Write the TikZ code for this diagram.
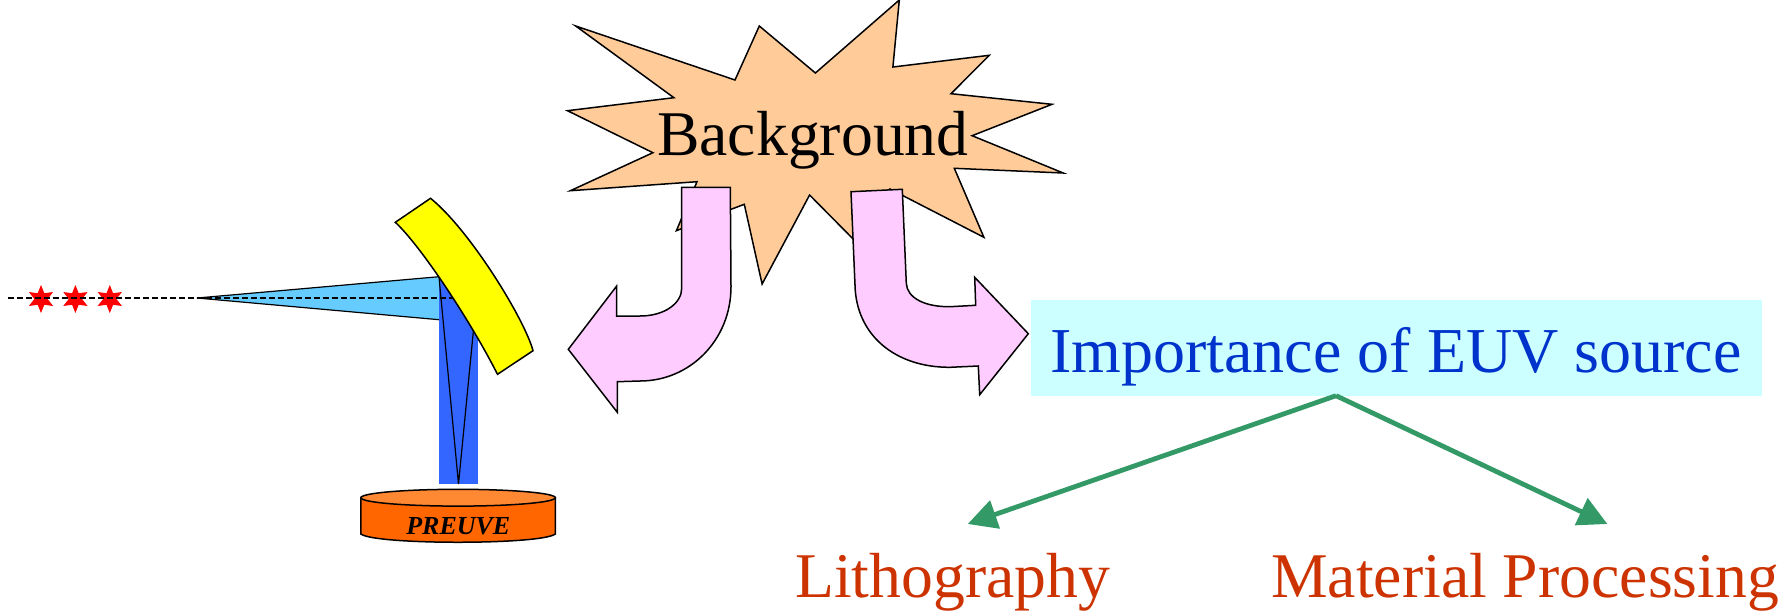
\documentclass[tikz,border=0pt]{standalone}
\usepackage{fontspec}
\setmainfont{Liberation Serif}
\usetikzlibrary{shapes.geometric,arrows.meta}
\definecolor{peach}{HTML}{FFCC99}
\definecolor{pinkfill}{HTML}{FFCCFF}
\definecolor{cyanbox}{HTML}{CCFFFF}
\definecolor{conecol}{HTML}{66CCFF}
\definecolor{beamcol}{HTML}{3366FF}
\definecolor{sidecol}{HTML}{FF6600}
\definecolor{topcol}{HTML}{FF8833}
\definecolor{greenline}{HTML}{339966}
\definecolor{redtext}{HTML}{CC3300}
\definecolor{bluetext}{HTML}{0033CC}
\definecolor{mirrorcol}{HTML}{FFFF00}
\definecolor{starcol}{HTML}{FF0000}
\tikzset{
  outline/.style={draw=black,line width=1.5pt,line join=miter},
  thinline/.style={draw=black,line width=1.2pt},
  bigtext/.style={font=\fontsize{63.7}{70}\selectfont,inner sep=0pt,anchor=base west},
  redstar/.style={star,star points=6,star point ratio=2.1,minimum size=28pt,inner sep=0pt,fill=starcol,draw=none},
  greenarrow/.style={draw=greenline,line width=4.8pt,-{Triangle[length=29pt,width=29pt,fill=greenline]}},
}
\begin{document}
\begin{tikzpicture}[x=1pt,y=-1pt]
\useasboundingbox (0,0) rectangle (1785,611);
% burst
\draw[outline,fill=peach] (575.7,26)--(735,80)--(759.3,26)--(815.4,73)--(899.3,0)--(892.9,67)--(989.3,55.3)--(951,93.7)--(1052,104.3)--(972.1,135.7)--(1063.2,173)--(954.3,168.3)--(983.9,237.3)--(890,189)--(866,252)--(809.6,195)--(762.1,284)--(744.3,204.3)--(731,209.3)--(676.4,230.7)--(697,181.7)--(570.4,190.7)--(652.9,152.7)--(567.5,110.7)--(673.9,97.7)--cycle;
\node[bigtext] (bg) at (657,155) {Background};
% block arrows
\draw[outline,fill=pinkfill] (681.7,187.3)--(730.3,187.3)--(731,286.7) .. controls (731,340) and (690,381) .. (640,381)--(617.3,381.7)--(617.3,412.3)--(568.3,349.3)--(616.7,286)--(616.7,316)--(640,316) .. controls (665,316) and (681.7,303) .. (681.7,288.3)--cycle;
\draw[outline,fill=pinkfill] (851,191.7)--(902.3,189.3)--(906.3,283.3) .. controls (907,298) and (925,307) .. (950,306.7)--(975.7,305.3)--(974.7,277.3)--(1028.3,333.7)--(979.7,394.7)--(978.3,366)--(950,367.3) .. controls (895,367.5) and (856,335) .. (855,285)--cycle;
% importance box
\node[fill=cyanbox,text=bluetext,font=\fontsize{64}{70}\selectfont,inner sep=0pt,minimum width=731pt,text height=72.5pt,text depth=24pt,anchor=base] (imp) at (1396,372) {Importance of EUV source};
\node[bigtext,text=redtext] (litho) at (795,597) {Lithography};
\node[bigtext,text=redtext] (mat) at (1271,597) {Material Processing};
\coordinate (apex) at (1336,395.7);
\coordinate (lt) at (967.7,524);
\coordinate (rt) at (1607.4,524);
\draw[greenarrow] (apex) -- (lt);
\draw[greenarrow] (apex) -- (rt);
% beams
\fill[conecol] (197,298)--(439,276.7)--(470,300)--(439,319.7)--cycle;
\fill[beamcol] (439,277) rectangle (478,484);
\draw[thinline] (439,276.7)--(197,298)--(439,319.7);
\draw[thinline] (439,277)--(458.5,484)--(473.8,326.7);
% stars and axis
\node[redstar] (s1) at (41,299) {};
\node[redstar] (s2) at (75.4,299) {};
\node[redstar] (s3) at (109.8,299) {};
\coordinate (d0) at (7.7,298);
\coordinate (d1) at (457,298);
\draw[black,line width=1.1pt,dash pattern=on 6pt off 3pt] (d0) -- (d1);
% mirror
\draw[outline,fill=mirrorcol] (430.5,198.3)--(395.3,222.3) .. controls (420,245) and (470,320) .. (497.5,374.3)--(533,350.7) .. controls (525,320) and (470,230) .. (430.5,198.3)--cycle;
% PREUVE cylinder
\draw[outline,fill=sidecol] (360.9,497.7)--(360.9,534) .. controls (375,545) and (541,545) .. (555.3,534)--(555.3,497.7)--cycle;
\draw[outline,fill=topcol] (458.1,497.7) ellipse [x radius=97.2,y radius=8.4];
\node[font=\fontsize{26}{30}\selectfont\bfseries\itshape,inner sep=0pt,anchor=base] (pv) at (458.3,534) {PREUVE};
\end{tikzpicture}
\end{document}
